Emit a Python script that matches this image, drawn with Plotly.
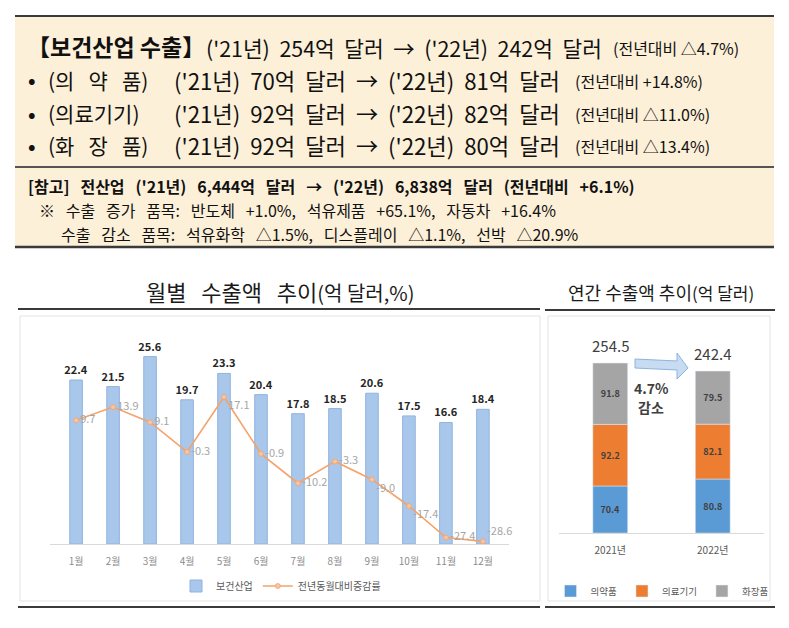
import plotly.graph_objects as go

# ---------------- data ----------------
months = ["1월", "2월", "3월", "4월", "5월", "6월", "7월", "8월", "9월", "10월", "11월", "12월"]
monthly_exports = [22.4, 21.5, 25.6, 19.7, 23.3, 20.4, 17.8, 18.5, 20.6, 17.5, 16.6, 18.4]
yoy_change = [9.7, 13.9, 9.1, -0.3, 17.1, -0.9, -10.2, -3.3, -9.0, -17.4, -27.4, -28.6]

years = ["2021년", "2022년"]
pharma = [70.4, 80.8]
devices = [92.2, 82.1]
cosmetics = [91.8, 79.5]
totals = [254.5, 242.4]

FONT = "Noto Sans CJK KR"
W, H = 789, 628
SP = "&nbsp;"


def px(x):
    return x / W


def py(y):
    return 1 - y / H


def wide(s, n=2):
    # widen word gaps like the original typeface
    return s.replace(" ", SP * n)


fig = go.Figure()

# ---------------- monthly chart ----------------
fig.add_trace(go.Bar(
    x=months, y=monthly_exports, name="보건산업",
    marker=dict(color="#a9c7ea", line=dict(color="#8fb3e0", width=1)),
    texttemplate="<b>%{y:.1f}</b>", textposition="outside", cliponaxis=False,
    constraintext="none",
    textfont=dict(size=11, color="#262626", family=FONT),
    xaxis="x", yaxis="y", legend="legend",
))
line_label_pos = ["middle right", "middle right", "middle right", "middle right",
                  "bottom right", "middle right", "middle right", "middle right",
                  "bottom right", "bottom right", "middle right", "top right"]
fig.add_trace(go.Scatter(
    x=months, y=yoy_change, name="전년동월대비증감률", mode="lines+markers+text",
    line=dict(color="#f4a26a", width=1.6),
    marker=dict(size=5, color="#f7c4a4", line=dict(color="#f4a26a", width=0.8)),
    texttemplate="%{y:.1f}", textposition=line_label_pos, cliponaxis=False,
    textfont=dict(size=11, color="#a6a6a6", family=FONT),
    xaxis="x", yaxis="y2", legend="legend",
))

# ---------------- annual stacked chart ----------------
for name, vals, col in [("의약품", pharma, "#5b9bd5"),
                        ("의료기기", devices, "#ed7d31"),
                        ("화장품", cosmetics, "#a5a5a5")]:
    fig.add_trace(go.Bar(
        x=years, y=vals, name=name, marker=dict(color=col),
        texttemplate="<b>%{y:.1f}</b>", textposition="inside", insidetextanchor="middle",
        constraintext="none",
        textfont=dict(size=9, color="#404040", family=FONT),
        xaxis="x3", yaxis="y3", legend="legend2",
    ))

for yr, tot in zip(years, totals):
    fig.add_annotation(x=yr, y=tot, xref="x3", yref="y3", text=f"{tot:.1f}",
                       showarrow=False, yanchor="bottom", yshift=5,
                       font=dict(size=15, color="#404040", family=FONT))

# ---------------- shapes (paper coordinates) ----------------
dark = "#3a3a3a"


def pline(x0, x1, y, color=dark, width=2):
    return dict(type="line", xref="paper", yref="paper", x0=px(x0), x1=px(x1),
                y0=py(y), y1=py(y), line=dict(color=color, width=width))


def prect(x0, y0, x1, y1, **kw):
    return dict(type="rect", xref="paper", yref="paper", x0=px(x0), x1=px(x1),
                y0=py(y1), y1=py(y0), **kw)


shapes = [
    prect(15, 16, 774, 248, fillcolor="#fdf0d9", line=dict(width=0), layer="below"),
    pline(15, 774, 16),
    pline(15, 774, 167, "#555555", 2),
    pline(15, 774, 247, dark, 2.5),
    prect(20, 316, 540, 601, line=dict(color="#e3e3e3", width=1),
          fillcolor="rgba(0,0,0,0)", layer="below"),
    prect(548, 316, 770, 601, line=dict(color="#e3e3e3", width=1),
          fillcolor="rgba(0,0,0,0)", layer="below"),
    pline(18, 540, 309),
    pline(545, 775, 310),
    pline(18, 540, 607),
    pline(545, 775, 607),
]
# decorative block arrow between annual bars
arrow_pts = [(635, 359), (677, 361), (677, 353), (688, 368), (677, 379), (677, 370), (635, 368)]
path = "M " + " L ".join(f"{px(x):.5f},{py(y):.5f}" for x, y in arrow_pts) + " Z"
shapes.append(dict(type="path", path=path, xref="paper", yref="paper",
                   fillcolor="#c8dcf1", line=dict(color="#8db3e2", width=1)))


# ---------------- header text ----------------
def note(x, y, text, size, color="#111111", anchor="left", bold=False):
    if bold:
        text = "<b>" + text + "</b>"
    fig.add_annotation(x=px(x), y=py(y), xref="paper", yref="paper", text=text,
                       showarrow=False, xanchor=anchor, yanchor="middle",
                       font=dict(size=size, color=color, family=FONT))


note(25, 46, "【보건산업" + SP + "수출】", 23, bold=True)
note(204, 47, wide("('21년) 254억 달러 → ('22년) 242억 달러"), 21.4)
note(611, 48, "(전년대비 △4.7%)", 16)

rows = [
    (80, "(의" + SP * 3 + "약" + SP * 3 + "품)", "('21년) 70억 달러 → ('22년) 81억 달러", "(전년대비 +14.8%)"),
    (113, "(의료기기)", "('21년) 92억 달러 → ('22년) 82억 달러", "(전년대비 △11.0%)"),
    (145, "(화" + SP * 3 + "장" + SP * 3 + "품)", "('21년) 92억 달러 → ('22년) 80억 달러", "(전년대비 △13.4%)"),
]
for y, cat, main, small in rows:
    note(26, y, "•", 20, bold=True)
    note(46, y, cat, 21)
    note(172, y, wide(main), 22.2)
    note(573, y + 1, small, 16)

note(26, 186, wide("[참고] 전산업 ('21년) 6,444억 달러 → ('22년) 6,838억 달러 (전년대비 +6.1%)", 3), 16, bold=True)
note(37, 210, wide("※ 수출 증가 품목: 반도체 +1.0%, 석유제품 +65.1%, 자동차 +16.4%", 3), 16)
note(59, 234, wide("수출 감소 품목: 석유화학 △1.5%, 디스플레이 △1.1%, 선박 △20.9%", 3), 16)

# chart titles
note(280, 291, "월별" + SP * 3 + "수출액" + SP * 3 + "추이<span style='font-size:20px'>(억" + SP + "달러,%)</span>",
     22, "#1a1a1a", "center")
note(661, 292, "연간" + SP + "수출액" + SP + "추이<span style='font-size:17px'>(억" + SP + "달러)</span>",
     18, "#1a1a1a", "center")
# decrease note
note(651, 388, "4.7%", 14, "#404040", "center", bold=True)
note(651, 407, "감소", 14, "#404040", "center", bold=True)

# ---------------- layout ----------------
bar_top, bar_base = 324, 544
ann_top, ann_base = 330, 533
fig.update_layout(
    width=W, height=H, margin=dict(l=0, r=0, t=0, b=0),
    paper_bgcolor="white", plot_bgcolor="rgba(0,0,0,0)",
    font=dict(family=FONT, color="#404040"),
    barmode="relative", bargap=0.66,
    showlegend=True, shapes=shapes,
    xaxis=dict(domain=[px(50), px(509)], type="category", showgrid=False,
               showline=True, linecolor="#d9d9d9", linewidth=1, ticks="",
               ticklabelstandoff=8,
               tickfont=dict(size=10, color="#8c8c8c", family=FONT), fixedrange=True),
    yaxis=dict(domain=[py(bar_base), py(bar_top)], range=[0, (bar_base - bar_top) / 7.32],
               visible=False, fixedrange=True),
    yaxis2=dict(domain=[py(bar_base), py(bar_top)], overlaying="y", anchor="x",
                range=[-(bar_base - 451) / 3.16, (451 - bar_top) / 3.16],
                visible=False, fixedrange=True),
    xaxis3=dict(domain=[px(559), px(764)], anchor="y3", type="category", showgrid=False,
                showline=True, linecolor="#d9d9d9", linewidth=1, ticks="",
                ticklabelstandoff=8,
                tickfont=dict(size=10, color="#595959", family=FONT), fixedrange=True),
    yaxis3=dict(domain=[py(ann_base), py(ann_top)], anchor="x3",
                range=[0, (ann_base - ann_top) / 0.668], visible=False, fixedrange=True),
    legend=dict(orientation="h", x=px(281), y=py(586), xanchor="center", yanchor="middle",
                font=dict(size=10, color="#595959", family=FONT), itemwidth=30,
                bgcolor="rgba(0,0,0,0)", traceorder="normal"),
    legend2=dict(orientation="h", x=px(662), y=py(591), xanchor="center", yanchor="middle",
                 font=dict(size=9.5, color="#595959", family=FONT), itemwidth=30,
                 bgcolor="rgba(0,0,0,0)", traceorder="normal"),
)

fig.write_html("out.html")
